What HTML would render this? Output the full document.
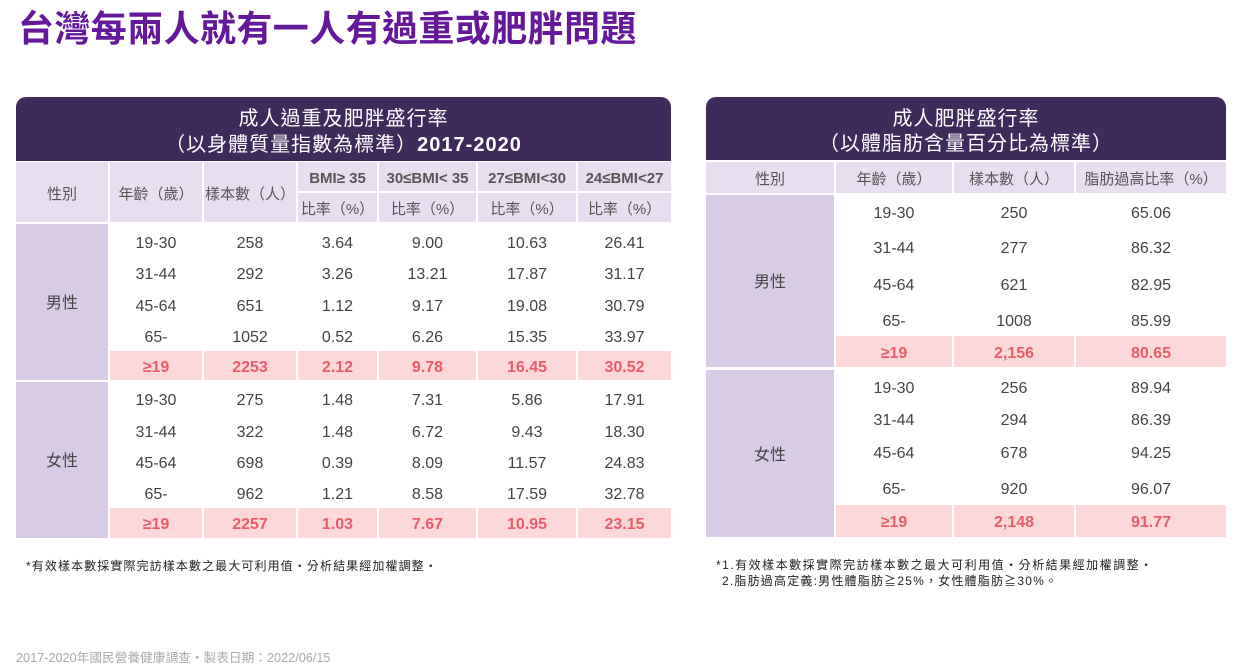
<!DOCTYPE html>
<html>
<head>
<meta charset="utf-8">
<style>
*{margin:0;padding:0;box-sizing:border-box;}
html,body{width:1245px;height:666px;background:#fff;overflow:hidden;}
body{position:relative;font-family:"Liberation Sans","Noto Sans CJK TC",sans-serif;color:#444;}
.a{position:absolute;}
.c{position:absolute;display:flex;align-items:center;justify-content:center;white-space:nowrap;line-height:1;padding-top:4px;}
.hd{background:#3e2a5b;border-radius:10px 10px 0 0;color:#fff;font-size:20px;letter-spacing:1px;}
.lv{background:#e7dff0;color:#555;font-size:15px;}
.gd{background:#d7cbe6;color:#444;font-size:16px;}
.pk{background:#fcd8da;color:#e85d67;font-weight:bold;font-size:16px;}
.t{font-size:16px;color:#444;height:24px;}
.b{font-weight:bold;}
</style>
</head>
<body>
<div class="a" style="left:18px;top:8px;font-size:36px;line-height:36px;font-weight:bold;color:#65189a;letter-spacing:0.4px;white-space:nowrap;font-family:'Noto Sans CJK TC','Liberation Sans',sans-serif;">台灣每兩人就有一人有過重或肥胖問題</div>

<!-- LEFT TABLE -->
<div class="a hd" style="left:16px;top:97px;width:655px;height:64px;"></div>
<div class="c" style="left:16px;top:105px;width:655px;height:24px;color:#fff;font-size:20px;letter-spacing:1px;">成人過重及肥胖盛行率</div>
<div class="c" style="left:16px;top:131px;width:655px;height:24px;color:#fff;font-size:20px;letter-spacing:1px;">（以身體質量指數為標準）<span class="b">2017-2020</span></div>

<div class="c lv" style="left:16px;top:162px;width:92px;height:60px;">性別</div>
<div class="c lv" style="left:110px;top:162px;width:92px;height:60px;">年齡（歲）</div>
<div class="c lv" style="left:204px;top:162px;width:92px;height:60px;">樣本數（人）</div>
<div class="c lv b" style="left:298px;top:162px;width:79px;height:29px;">BMI≥ 35</div>
<div class="c lv b" style="left:379px;top:162px;width:97px;height:29px;">30≤BMI&lt; 35</div>
<div class="c lv b" style="left:478px;top:162px;width:98px;height:29px;">27≤BMI&lt;30</div>
<div class="c lv b" style="left:578px;top:162px;width:93px;height:29px;">24≤BMI&lt;27</div>
<div class="c lv" style="left:298px;top:193px;width:79px;height:29px;">比率（%）</div>
<div class="c lv" style="left:379px;top:193px;width:97px;height:29px;">比率（%）</div>
<div class="c lv" style="left:478px;top:193px;width:98px;height:29px;">比率（%）</div>
<div class="c lv" style="left:578px;top:193px;width:93px;height:29px;">比率（%）</div>

<div class="c gd" style="left:16px;top:224px;width:92px;height:156px;">男性</div>
<div class="c gd" style="left:16px;top:382px;width:92px;height:156px;">女性</div>

<!-- male rows -->
<div class="c t" style="left:110px;top:230px;width:92px;">19-30</div>
<div class="c t" style="left:204px;top:230px;width:92px;">258</div>
<div class="c t" style="left:298px;top:230px;width:79px;">3.64</div>
<div class="c t" style="left:379px;top:230px;width:97px;">9.00</div>
<div class="c t" style="left:478px;top:230px;width:98px;">10.63</div>
<div class="c t" style="left:578px;top:230px;width:93px;">26.41</div>

<div class="c t" style="left:110px;top:261px;width:92px;">31-44</div>
<div class="c t" style="left:204px;top:261px;width:92px;">292</div>
<div class="c t" style="left:298px;top:261px;width:79px;">3.26</div>
<div class="c t" style="left:379px;top:261px;width:97px;">13.21</div>
<div class="c t" style="left:478px;top:261px;width:98px;">17.87</div>
<div class="c t" style="left:578px;top:261px;width:93px;">31.17</div>

<div class="c t" style="left:110px;top:293px;width:92px;">45-64</div>
<div class="c t" style="left:204px;top:293px;width:92px;">651</div>
<div class="c t" style="left:298px;top:293px;width:79px;">1.12</div>
<div class="c t" style="left:379px;top:293px;width:97px;">9.17</div>
<div class="c t" style="left:478px;top:293px;width:98px;">19.08</div>
<div class="c t" style="left:578px;top:293px;width:93px;">30.79</div>

<div class="c t" style="left:110px;top:324px;width:92px;">65-</div>
<div class="c t" style="left:204px;top:324px;width:92px;">1052</div>
<div class="c t" style="left:298px;top:324px;width:79px;">0.52</div>
<div class="c t" style="left:379px;top:324px;width:97px;">6.26</div>
<div class="c t" style="left:478px;top:324px;width:98px;">15.35</div>
<div class="c t" style="left:578px;top:324px;width:93px;">33.97</div>

<div class="c pk" style="left:110px;top:351px;width:92px;height:29px;">≥19</div>
<div class="c pk" style="left:204px;top:351px;width:92px;height:29px;">2253</div>
<div class="c pk" style="left:298px;top:351px;width:79px;height:29px;">2.12</div>
<div class="c pk" style="left:379px;top:351px;width:97px;height:29px;">9.78</div>
<div class="c pk" style="left:478px;top:351px;width:98px;height:29px;">16.45</div>
<div class="c pk" style="left:578px;top:351px;width:93px;height:29px;">30.52</div>

<!-- female rows -->
<div class="c t" style="left:110px;top:387px;width:92px;">19-30</div>
<div class="c t" style="left:204px;top:387px;width:92px;">275</div>
<div class="c t" style="left:298px;top:387px;width:79px;">1.48</div>
<div class="c t" style="left:379px;top:387px;width:97px;">7.31</div>
<div class="c t" style="left:478px;top:387px;width:98px;">5.86</div>
<div class="c t" style="left:578px;top:387px;width:93px;">17.91</div>

<div class="c t" style="left:110px;top:419px;width:92px;">31-44</div>
<div class="c t" style="left:204px;top:419px;width:92px;">322</div>
<div class="c t" style="left:298px;top:419px;width:79px;">1.48</div>
<div class="c t" style="left:379px;top:419px;width:97px;">6.72</div>
<div class="c t" style="left:478px;top:419px;width:98px;">9.43</div>
<div class="c t" style="left:578px;top:419px;width:93px;">18.30</div>

<div class="c t" style="left:110px;top:450px;width:92px;">45-64</div>
<div class="c t" style="left:204px;top:450px;width:92px;">698</div>
<div class="c t" style="left:298px;top:450px;width:79px;">0.39</div>
<div class="c t" style="left:379px;top:450px;width:97px;">8.09</div>
<div class="c t" style="left:478px;top:450px;width:98px;">11.57</div>
<div class="c t" style="left:578px;top:450px;width:93px;">24.83</div>

<div class="c t" style="left:110px;top:481px;width:92px;">65-</div>
<div class="c t" style="left:204px;top:481px;width:92px;">962</div>
<div class="c t" style="left:298px;top:481px;width:79px;">1.21</div>
<div class="c t" style="left:379px;top:481px;width:97px;">8.58</div>
<div class="c t" style="left:478px;top:481px;width:98px;">17.59</div>
<div class="c t" style="left:578px;top:481px;width:93px;">32.78</div>

<div class="c pk" style="left:110px;top:508px;width:92px;height:30px;">≥19</div>
<div class="c pk" style="left:204px;top:508px;width:92px;height:30px;">2257</div>
<div class="c pk" style="left:298px;top:508px;width:79px;height:30px;">1.03</div>
<div class="c pk" style="left:379px;top:508px;width:97px;height:30px;">7.67</div>
<div class="c pk" style="left:478px;top:508px;width:98px;height:30px;">10.95</div>
<div class="c pk" style="left:578px;top:508px;width:93px;height:30px;">23.15</div>

<div class="a" style="left:26px;top:558px;font-size:12px;line-height:16px;color:#222;letter-spacing:1.1px;white-space:nowrap;">*有效樣本數採實際完訪樣本數之最大可利用值‧分析結果經加權調整‧</div>

<!-- RIGHT TABLE -->
<div class="a hd" style="left:706px;top:97px;width:520px;height:63px;"></div>
<div class="c" style="left:706px;top:105px;width:520px;height:24px;color:#fff;font-size:20px;letter-spacing:1px;">成人肥胖盛行率</div>
<div class="c" style="left:706px;top:130px;width:520px;height:24px;color:#fff;font-size:20px;letter-spacing:1px;">（以體脂肪含量百分比為標準）</div>

<div class="c lv" style="left:706px;top:162px;width:128px;height:31px;">性別</div>
<div class="c lv" style="left:836px;top:162px;width:116px;height:31px;">年齡（歲）</div>
<div class="c lv" style="left:954px;top:162px;width:120px;height:31px;">樣本數（人）</div>
<div class="c lv" style="left:1076px;top:162px;width:150px;height:31px;">脂肪過高比率（%）</div>

<div class="c gd" style="left:706px;top:195px;width:128px;height:172px;">男性</div>
<div class="c gd" style="left:706px;top:370px;width:128px;height:167px;">女性</div>

<div class="c t" style="left:836px;top:200px;width:116px;">19-30</div>
<div class="c t" style="left:954px;top:200px;width:120px;">250</div>
<div class="c t" style="left:1076px;top:200px;width:150px;">65.06</div>

<div class="c t" style="left:836px;top:235px;width:116px;">31-44</div>
<div class="c t" style="left:954px;top:235px;width:120px;">277</div>
<div class="c t" style="left:1076px;top:235px;width:150px;">86.32</div>

<div class="c t" style="left:836px;top:272px;width:116px;">45-64</div>
<div class="c t" style="left:954px;top:272px;width:120px;">621</div>
<div class="c t" style="left:1076px;top:272px;width:150px;">82.95</div>

<div class="c t" style="left:836px;top:308px;width:116px;">65-</div>
<div class="c t" style="left:954px;top:308px;width:120px;">1008</div>
<div class="c t" style="left:1076px;top:308px;width:150px;">85.99</div>

<div class="c pk" style="left:836px;top:336px;width:116px;height:31px;">≥19</div>
<div class="c pk" style="left:954px;top:336px;width:120px;height:31px;">2,156</div>
<div class="c pk" style="left:1076px;top:336px;width:150px;height:31px;">80.65</div>

<div class="c t" style="left:836px;top:375px;width:116px;">19-30</div>
<div class="c t" style="left:954px;top:375px;width:120px;">256</div>
<div class="c t" style="left:1076px;top:375px;width:150px;">89.94</div>

<div class="c t" style="left:836px;top:407px;width:116px;">31-44</div>
<div class="c t" style="left:954px;top:407px;width:120px;">294</div>
<div class="c t" style="left:1076px;top:407px;width:150px;">86.39</div>

<div class="c t" style="left:836px;top:440px;width:116px;">45-64</div>
<div class="c t" style="left:954px;top:440px;width:120px;">678</div>
<div class="c t" style="left:1076px;top:440px;width:150px;">94.25</div>

<div class="c t" style="left:836px;top:476px;width:116px;">65-</div>
<div class="c t" style="left:954px;top:476px;width:120px;">920</div>
<div class="c t" style="left:1076px;top:476px;width:150px;">96.07</div>

<div class="c pk" style="left:836px;top:505px;width:116px;height:32px;">≥19</div>
<div class="c pk" style="left:954px;top:505px;width:120px;height:32px;">2,148</div>
<div class="c pk" style="left:1076px;top:505px;width:150px;height:32px;">91.77</div>

<div class="a" style="left:716px;top:557px;font-size:12px;line-height:16px;color:#222;letter-spacing:1.5px;white-space:nowrap;">*1.有效樣本數採實際完訪樣本數之最大可利用值‧分析結果經加權調整‧</div>
<div class="a" style="left:722px;top:573px;font-size:12px;line-height:16px;color:#222;letter-spacing:1.2px;white-space:nowrap;">2.脂肪過高定義:男性體脂肪≧25%，女性體脂肪≧30%。</div>

<div class="a" style="left:16px;top:650px;font-size:12.7px;line-height:16px;color:#aaa;white-space:nowrap;">2017-2020年國民營養健康調查・製表日期：2022/06/15</div>
</body>
</html>
